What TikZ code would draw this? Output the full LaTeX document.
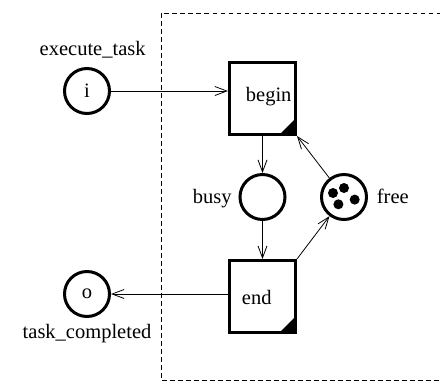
\documentclass[tikz,border=0pt]{standalone}
\usepackage{fontspec}
\setmainfont{Liberation Serif}
\usetikzlibrary{arrows.meta}
\begin{document}
\begin{tikzpicture}[x=1pt,y=-1pt,
  every node/.style={font=\rmfamily\fontsize{20.5}{24}\selectfont},
  place/.style={draw,circle,line width=3pt,minimum size=45pt,inner sep=0pt},
  trans/.style={draw,rectangle,line width=3pt,minimum width=66pt,minimum height=72pt,inner sep=0pt},
  lbl/.style={anchor=base west,inner sep=0pt},
  arc/.style={line width=0.8pt,-{Straight Barb[length=12pt,width=9pt,line width=0.8pt]}},
  token/.style={circle,fill=black,minimum size=10pt,inner sep=0pt},
  boundary/.style={line width=0.8pt,dash pattern=on 4.5pt off 3.5pt}]
\useasboundingbox (0,0) rectangle (440,384);
% process boundary
\draw[boundary] (161,13) rectangle (470,380);
% places and transitions
\node[place] (i) at (87,91) {i};
\node[place] (o) at (87,294) {o};
\node[place] (busy) at (262.5,197) {};
\node[place] (free) at (344,197) {};
\node[trans] (begin) at (262.5,98.5) {};
\node[trans] (end) at (262.5,296.5) {};
% corner marks of the transitions
\fill ([shift={(-1.5,-1.5)}]begin.south east) -- ++(-16,0) -- ++(16,-16) -- cycle;
\fill ([shift={(-1.5,-1.5)}]end.south east) -- ++(-16,0) -- ++(16,-16) -- cycle;
% tokens in free
\node[token] (t1) at ([shift={(-11,-4)}]free.center) {};
\node[token] (t2) at ([shift={(0,-9)}]free.center) {};
\node[token] (t3) at ([shift={(-5.6,7.3)}]free.center) {};
\node[token] (t4) at ([shift={(10.7,2.6)}]free.center) {};
% labels
\node[lbl] (li) at (39.5,55) {execute\_task};
\node[lbl] (lo) at (22.5,338) {task\_completed};
\node[lbl] (lbusy) at (192.7,203) {busy};
\node[lbl] (lfree) at (376.7,203) {free};
\node[lbl] (lbegin) at (245.7,101) {begin};
\node[lbl] (lend) at (241.7,304.5) {end};
% arcs
\draw[arc] (i) -- (i -| begin.west);
\draw[arc] (begin) -- (busy);
\draw[arc] (busy) -- (end);
\draw[arc] (end.north east) -- (free);
\draw[arc] (free) -- (begin.south east);
\draw[arc] (end.west |- o) -- (o);
\end{tikzpicture}
\end{document}
